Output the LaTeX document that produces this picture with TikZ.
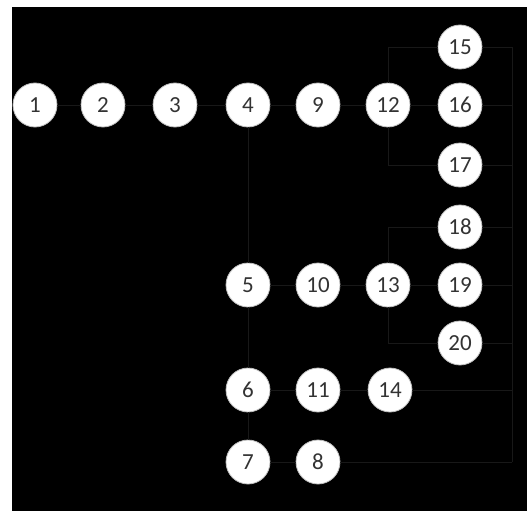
\documentclass[tikz,border=0pt]{standalone}
\usepackage{fontspec}
\setmainfont{Carlito}
\usetikzlibrary{positioning, calc}
\definecolor{wiregray}{HTML}{181818}
\definecolor{numgray}{HTML}{333333}
\tikzset{
  nd/.style={circle, fill=white, draw=white!75!black, line width=0.8pt,
             minimum size=44pt, inner sep=0pt, text=numgray,
             font=\fontsize{23}{23}\selectfont},
  wire/.style={draw=wiregray, line width=0.9pt},
}

\begin{document}
\begin{tikzpicture}[x=1pt, y=-1pt]
  % frame: white margin top/left, black field
  \fill[white] (0,0) rectangle (527,511);
  \fill[black] (12,7) rectangle (527,511);
  \useasboundingbox (0,0) rectangle (527,511);

  % top row
  \node[nd] (n1)  at (35,105)  {1};
  \node[nd] (n2)  at (103,105) {2};
  \node[nd] (n3)  at (175,105) {3};
  \node[nd] (n4)  at (248,105) {4};
  \node[nd] (n9)  at (318,105) {9};
  \node[nd] (n12) at (388,105) {12};

  % right column
  \node[nd] (n15) at (460,47)  {15};
  \node[nd] (n16) at (460,105) {16};
  \node[nd] (n17) at (460,165) {17};
  \node[nd] (n18) at (460,227) {18};
  \node[nd] (n19) at (460,285) {19};
  \node[nd] (n20) at (460,343) {20};

  % lower block
  \node[nd] (n5)  at (248,285) {5};
  \node[nd] (n10) at (318,285) {10};
  \node[nd] (n13) at (388,285) {13};
  \node[nd] (n6)  at (248,390) {6};
  \node[nd] (n11) at (318,390) {11};
  \node[nd] (n14) at (390,390) {14};
  \node[nd] (n7)  at (248,462) {7};
  \node[nd] (n8)  at (318,462) {8};

  % output bus
  \coordinate (bus) at (512,0);

  % connectors
  \draw[wire] (n1) -- (n2);
  \draw[wire] (n2) -- (n3);
  \draw[wire] (n3) -- (n4);
  \draw[wire] (n4) -- (n9);
  \draw[wire] (n9) -- (n12);
  \draw[wire] (n12) -- (n16);
  \draw[wire] (n12) |- (n15);
  \draw[wire] (n12) |- (n17);

  \draw[wire] (n4) -- (n5);
  \draw[wire] (n5) -- (n6);
  \draw[wire] (n6) -- (n7);
  \draw[wire] (n5) -- (n10);
  \draw[wire] (n10) -- (n13);
  \draw[wire] (n13) -- (n19);
  \draw[wire] (n13) |- (n18);
  \draw[wire] (n13) |- (n20);
  \draw[wire] (n6) -- (n11);
  \draw[wire] (n11) -- (n14);
  \draw[wire] (n7) -- (n8);

  \draw[wire] (n15) -- (n15 -| bus);
  \draw[wire] (n16) -- (n16 -| bus);
  \draw[wire] (n17) -- (n17 -| bus);
  \draw[wire] (n18) -- (n18 -| bus);
  \draw[wire] (n19) -- (n19 -| bus);
  \draw[wire] (n20) -- (n20 -| bus);
  \draw[wire] (n14) -- (n14 -| bus);
  \draw[wire] (n8) -- (n8 -| bus);
  \draw[wire] (n15 -| bus) -- (n8 -| bus);
\end{tikzpicture}
\end{document}
